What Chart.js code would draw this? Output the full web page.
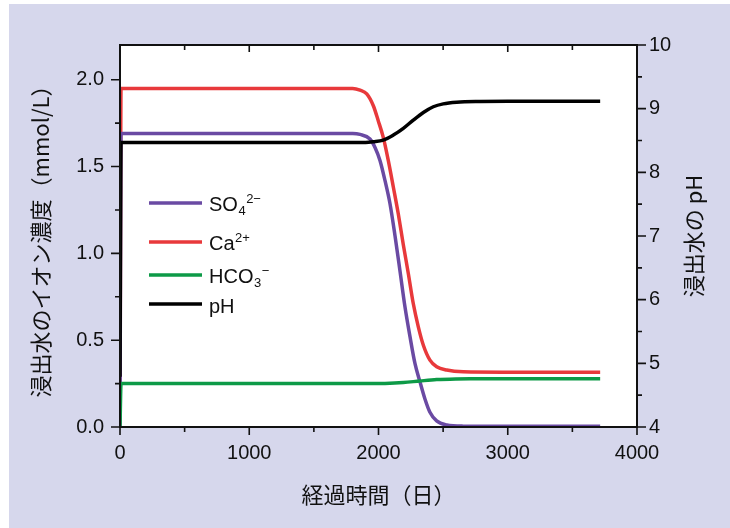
<!DOCTYPE html>
<html><head><meta charset="utf-8">
<script src="https://cdn.jsdelivr.net/npm/chart.js@4/dist/chart.umd.min.js"></script>
<style>html,body{margin:0;padding:0;background:#fff;}#wrap{width:730px;height:528px;position:relative;}</style>
</head><body><div id="wrap"><canvas id="c" width="730" height="528"></canvas></div>
<script>
// ---- data ----
const so4Days = [0, 8, 500, 1000, 1500, 1800, 1857, 1934, 1973, 2012, 2050, 2089, 2128, 2166, 2205, 2244, 2282, 2321, 2360, 2398, 2450, 2528, 2656, 3000, 3715];
const so4Vals = [0, 1.69, 1.69, 1.69, 1.69, 1.69, 1.685, 1.659, 1.61, 1.534, 1.42, 1.286, 1.10, 0.90, 0.691, 0.519, 0.366, 0.26, 0.160, 0.085, 0.035, 0.012, 0.005, 0.004, 0.004];

const caDays = [0, 8, 500, 1000, 1500, 1800, 1857, 1909, 1960, 1998, 2037, 2076, 2115, 2153, 2192, 2231, 2269, 2308, 2347, 2398, 2450, 2528, 2656, 2963, 3715];
const caVals = [0, 1.95, 1.95, 1.95, 1.95, 1.95, 1.94, 1.918, 1.85, 1.764, 1.668, 1.534, 1.381, 1.228, 1.05, 0.883, 0.711, 0.577, 0.471, 0.385, 0.347, 0.328, 0.318, 0.316, 0.316];

const hco3Days = [0, 8, 500, 1000, 1500, 1934, 2050, 2192, 2321, 2450, 2600, 2708, 3000, 3715];
const hco3Vals = [0, 0.25, 0.25, 0.25, 0.25, 0.25, 0.251, 0.256, 0.265, 0.273, 0.277, 0.278, 0.278, 0.278];

const phDays = [0, 8, 500, 1000, 1500, 1900, 1960, 2037, 2115, 2192, 2269, 2347, 2424, 2501, 2605, 2785, 3000, 3715];
const phVals = [4.79, 8.47, 8.47, 8.47, 8.47, 8.47, 8.48, 8.505, 8.585, 8.69, 8.82, 8.94, 9.03, 9.075, 9.10, 9.112, 9.115, 9.115];

const xTicks = [0, 1000, 2000, 3000, 4000];
const xMinorTicks = [500, 1500, 2500, 3500];
const yLeftTicks = [0, 0.5, 1.0, 1.5, 2.0];
const yLeftMinor = [0.25, 0.75, 1.25, 1.75];
const yRightTicks = [4, 5, 6, 7, 8, 9, 10];
const yRightMinor = [4.5, 5.5, 6.5, 7.5, 8.5, 9.5];

const xTitle = '経過時間（日）';
const yLeftTitle = '浸出水のイオン濃度（mmol/L）';
const yRightTitle = '浸出水の pH';

// ---- styles ----
const C_SO4 = '#6a4aa3', C_CA = '#e8393b', C_HCO3 = '#0d9a47', C_PH = '#000000';
const BG = '#d6d7ec';
const TICK_FONT = {family: "'Liberation Sans', Arial, sans-serif", size: 20};
const TITLE_FONT = {family: "'Noto Sans CJK JP', sans-serif", size: 22};

const toPts = (xs, ys) => xs.map((x, i) => ({x: x, y: ys[i]}));

const bgPlugin = {
  id: 'bg',
  beforeDraw(chart) {
    const {ctx, chartArea: a} = chart;
    ctx.save();
    ctx.fillStyle = '#ffffff';
    ctx.fillRect(0, 0, chart.width, chart.height);
    ctx.fillStyle = BG;
    ctx.fillRect(9, 4, chart.width - 9, chart.height - 4);
    ctx.fillStyle = '#ffffff';
    ctx.fillRect(a.left, a.top, a.right - a.left, a.bottom - a.top);
    ctx.restore();
  }
};

const frameTicksPlugin = {
  id: 'frameTicks',
  afterDatasetsDraw(chart) {
    const {ctx, chartArea: a, scales} = chart;
    ctx.save();
    ctx.strokeStyle = '#111';
    ctx.lineWidth = 1.6;
    ctx.beginPath();
    const line = (x1, y1, x2, y2) => { ctx.moveTo(x1, y1); ctx.lineTo(x2, y2); };
    xTicks.forEach(v => { const p = scales.x.getPixelForValue(v); line(p, a.bottom, p, a.bottom + 8); line(p, a.top, p, a.top + 7); });
    xMinorTicks.forEach(v => { const p = scales.x.getPixelForValue(v); line(p, a.bottom, p, a.bottom + 5); line(p, a.top, p, a.top + 5); });
    yLeftTicks.forEach(v => { const p = scales.y.getPixelForValue(v); line(a.left, p, a.left - 9, p); });
    yLeftMinor.forEach(v => { const p = scales.y.getPixelForValue(v); line(a.left, p, a.left - 5, p); });
    yRightTicks.forEach(v => { const p = scales.y2.getPixelForValue(v); line(a.right, p, a.right + 9, p); });
    yRightMinor.forEach(v => { const p = scales.y2.getPixelForValue(v); line(a.right, p, a.right + 5, p); });
    ctx.stroke();
    ctx.lineWidth = 2;
    ctx.strokeRect(a.left, a.top, a.right - a.left, a.bottom - a.top);
    ctx.restore();
  }
};

const rightTitlePlugin = {
  id: 'rightTitle',
  afterDraw(chart) {
    const {ctx, chartArea: a} = chart;
    ctx.save();
    ctx.translate(694, (a.top + a.bottom) / 2);
    ctx.rotate(-Math.PI / 2);
    ctx.font = "22px 'Noto Sans CJK JP', sans-serif";
    ctx.fillStyle = '#111';
    ctx.textAlign = 'center';
    ctx.textBaseline = 'middle';
    ctx.fillText(yRightTitle, 0, 0);
    ctx.restore();
  }
};

const legendItems = [
  {color: C_SO4, parts: [['SO', 'n'], ['4', 'sub'], ['2−', 'sup']]},
  {color: C_CA, parts: [['Ca', 'n'], ['2+', 'sup']]},
  {color: C_HCO3, parts: [['HCO', 'n'], ['3', 'sub'], ['−', 'sup']]},
  {color: C_PH, parts: [['pH', 'n']]}
];
const legendPlugin = {
  id: 'customLegend',
  afterDraw(chart) {
    const ctx = chart.ctx;
    const lineY = [203, 242, 275, 304];
    const baseY = [211, 250, 283, 313];
    ctx.save();
    legendItems.forEach((it, i) => {
      ctx.strokeStyle = it.color;
      ctx.lineWidth = 3.5;
      ctx.beginPath(); ctx.moveTo(149, lineY[i]); ctx.lineTo(202, lineY[i]); ctx.stroke();
      let x = 209;
      ctx.fillStyle = '#111';
      ctx.textBaseline = 'alphabetic';
      ctx.textAlign = 'left';
      it.parts.forEach(([t, kind]) => {
        if (kind === 'n') {
          ctx.font = "20px 'Liberation Sans', Arial, sans-serif";
          ctx.fillText(t, x, baseY[i]);
          x += ctx.measureText(t).width;
        } else if (kind === 'sub') {
          ctx.font = "13px 'Liberation Sans', Arial, sans-serif";
          ctx.fillText(t, x + 0.5, baseY[i] + 4);
          x += ctx.measureText(t).width + 0.5;
        } else {
          ctx.font = "13px 'Liberation Sans', Arial, sans-serif";
          ctx.fillText(t, x + 0.5, baseY[i] - 8);
          x += ctx.measureText(t).width;
        }
      });
    });
    ctx.restore();
  }
};

const common = {pointRadius: 0, borderWidth: 3.5, fill: false, cubicInterpolationMode: 'monotone', borderJoinStyle: 'round'};

new Chart(document.getElementById('c'), {
  type: 'line',
  data: {
    datasets: [
      Object.assign({label: 'SO4', data: toPts(so4Days, so4Vals), borderColor: C_SO4, yAxisID: 'y', order: 2}, common),
      Object.assign({label: 'Ca', data: toPts(caDays, caVals), borderColor: C_CA, yAxisID: 'y', order: 3}, common),
      Object.assign({label: 'HCO3', data: toPts(hco3Days, hco3Vals), borderColor: C_HCO3, yAxisID: 'y', order: 1}, common),
      Object.assign({label: 'pH', data: toPts(phDays, phVals), borderColor: C_PH, yAxisID: 'y2', order: 0}, common)
    ]
  },
  options: {
    responsive: false,
    animation: false,
    devicePixelRatio: 1,
    layout: {padding: {top: 45, left: 0, right: 0, bottom: 0}},
    plugins: {legend: {display: false}, tooltip: {enabled: false}},
    scales: {
      x: {
        type: 'linear', position: 'bottom', min: 0, max: 4000,
        afterBuildTicks: s => { s.ticks = xTicks.map(v => ({value: v})); },
        afterFit: s => { s.height = 101; },
        grid: {display: false, drawTicks: false},
        border: {display: false},
        ticks: {font: TICK_FONT, color: '#111', padding: 14, maxRotation: 0, autoSkip: false, callback: v => String(v)},
        title: {display: true, text: xTitle, font: TITLE_FONT, color: '#111', padding: {top: 0, bottom: 20}}
      },
      y: {
        type: 'linear', position: 'left', min: 0, max: 2.2,
        afterBuildTicks: s => { s.ticks = yLeftTicks.map(v => ({value: v})); },
        afterFit: s => { s.width = 120; },
        grid: {display: false, drawTicks: false},
        border: {display: false},
        ticks: {font: TICK_FONT, color: '#111', padding: 16, autoSkip: false, callback: v => Number(v).toFixed(1)},
        title: {display: true, text: yLeftTitle, font: TITLE_FONT, color: '#111', padding: {top: 27, bottom: 0}}
      },
      y2: {
        type: 'linear', position: 'right', min: 4, max: 10,
        afterBuildTicks: s => { s.ticks = yRightTicks.map(v => ({value: v})); },
        afterFit: s => { s.width = 93; },
        grid: {display: false, drawTicks: false},
        border: {display: false},
        ticks: {font: TICK_FONT, color: '#111', padding: 12, autoSkip: false, callback: v => String(v)},
        title: {display: false}
      }
    }
  },
  plugins: [bgPlugin, frameTicksPlugin, rightTitlePlugin, legendPlugin]
});
</script></body></html>
